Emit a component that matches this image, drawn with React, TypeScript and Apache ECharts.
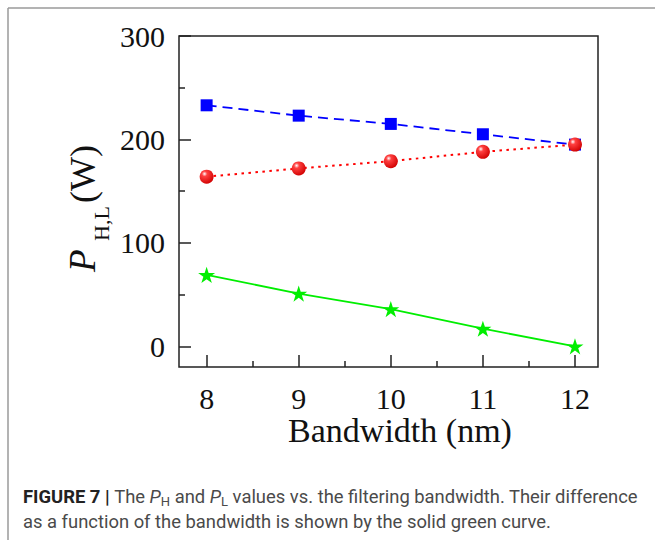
import React, { useEffect, useRef } from "react";
import * as echarts from "echarts";

const bandwidth = [8, 9, 10, 11, 12];
const pHigh = [233, 223, 215, 205, 195];
const pLow = [164, 172, 179, 188, 195];
const pDiff = [69, 51, 36, 17, 0];
const xMajorTicks = [8, 9, 10, 11, 12];
const xMinorTicks = [8.5, 9.5, 10.5, 11.5];
const yMajorTicks = [0, 100, 200, 300];
const yMinorTicks = [50, 150, 250];

const STAR =
  "path://M50 0 L61.23 34.55 L97.55 34.55 L68.16 55.9 L79.39 90.45 L50 69.1 L20.61 90.45 L31.84 55.9 L2.45 34.55 L38.77 34.55 Z";

const SERIF = "'Liberation Serif', 'Times New Roman', serif";

export default function App() {
  const ref = useRef<HTMLDivElement>(null);
  useEffect(() => {
    if (!ref.current) return;
    const chart = echarts.init(ref.current, null, { renderer: "svg" });
    const axisCommon = {
      type: "value" as const,
      axisLine: { show: false, onZero: false },
      splitLine: { show: false },
    };
    const tickStyle = { color: "#222", width: 1.5 };
    const pair = (ys: number[]) => bandwidth.map((x, i) => [x, ys[i]]);
    chart.setOption({
      animation: false,
      backgroundColor: "#fff",
      grid: {
        left: 179,
        top: 36,
        width: 419,
        height: 331,
        show: true,
        borderColor: "#222",
        borderWidth: 1.5,
        backgroundColor: "transparent",
      },
      xAxis: [
        {
          ...axisCommon,
          min: 7.7,
          max: 12.25,
          axisTick: { show: true, inside: true, length: 12, customValues: xMajorTicks, lineStyle: tickStyle },
          axisLabel: { customValues: xMajorTicks, margin: 18, lineHeight: 26, fontFamily: SERIF, fontSize: 30, color: "#111" },
        },
        {
          ...axisCommon,
          position: "bottom",
          min: 7.7,
          max: 12.25,
          axisTick: { show: true, inside: true, length: 6, customValues: xMinorTicks, lineStyle: tickStyle },
          axisLabel: { show: false },
        },
      ],
      yAxis: [
        {
          ...axisCommon,
          min: -20,
          max: 300,
          axisTick: { show: true, inside: true, length: 12, customValues: yMajorTicks, lineStyle: tickStyle },
          axisLabel: { customValues: yMajorTicks, margin: 14, fontFamily: SERIF, fontSize: 30, color: "#111" },
        },
        {
          ...axisCommon,
          position: "left",
          min: -20,
          max: 300,
          axisTick: { show: true, inside: true, length: 6, customValues: yMinorTicks, lineStyle: tickStyle },
          axisLabel: { show: false },
        },
      ],
      series: [
        {
          type: "line",
          data: pair(pHigh),
          symbol: "rect",
          symbolSize: 12,
          itemStyle: { color: "#0000ff" },
          lineStyle: { color: "#0000ff", width: 1.8, type: [10, 6] },
        },
        {
          type: "line",
          data: pair(pLow),
          symbol: "circle",
          symbolSize: 14,
          itemStyle: {
            color: new echarts.graphic.RadialGradient(0.35, 0.3, 0.75, [
              { offset: 0, color: "#ffffff" },
              { offset: 0.25, color: "#ff4040" },
              { offset: 1, color: "#d00000" },
            ]),
          },
          lineStyle: { color: "#ff0000", width: 2, type: [2.5, 4.5] },
        },
        {
          type: "line",
          data: pair(pDiff),
          symbol: STAR,
          symbolSize: 17,
          symbolKeepAspect: true,
          itemStyle: { color: "#00ee00" },
          lineStyle: { color: "#00ee00", width: 1.8 },
        },
      ],
      graphic: [
        { type: "line", shape: { x1: 8, y1: 8, x2: 655, y2: 8 }, style: { stroke: "#9a9a9a", lineWidth: 1.5 } },
        { type: "line", shape: { x1: 8, y1: 8, x2: 8, y2: 540 }, style: { stroke: "#9a9a9a", lineWidth: 1.5 } },
        {
          type: "text",
          x: 400,
          y: 413,
          style: { text: "Bandwidth (nm)", fontFamily: SERIF, fontSize: 34, fill: "#111", align: "center", verticalAlign: "top" },
        },
        {
          type: "group",
          x: 97,
          y: 272,
          rotation: Math.PI / 2,
          children: [
            { type: "text", x: 0, y: -33, style: { text: "P", fontFamily: SERIF, fontStyle: "italic", fontSize: 37, fill: "#111", verticalAlign: "top" } },
            { type: "text", x: 31, y: -6.5, style: { text: "H,L", fontFamily: SERIF, fontSize: 22, fill: "#111", verticalAlign: "top" } },
            { type: "text", x: 69, y: -32, style: { text: "(W)", fontFamily: SERIF, fontSize: 36, fill: "#111", verticalAlign: "top" } },
          ],
        },
      ],
    });
    return () => chart.dispose();
  }, []);

  const cap: React.CSSProperties = {
    position: "absolute",
    left: 23,
    fontFamily: "Roboto, 'Liberation Sans', sans-serif",
    fontSize: 18.4,
    color: "#4a4a4a",
    whiteSpace: "nowrap",
    lineHeight: "20px",
  };
  const sub: React.CSSProperties = { fontSize: 13, verticalAlign: "-3px" };
  return (
    <div style={{ position: "fixed", left: 0, top: 0, width: 655, height: 540, background: "#fff" }}>
      <div ref={ref} style={{ position: "absolute", left: 0, top: 0, width: 655, height: 540 }} />
      <div style={{ ...cap, top: 486.5 }}>
        <b style={{ color: "#222" }}>FIGURE 7 | </b>The <i>P</i>
        <span style={sub}>H</span> and <i>P</i>
        <span style={sub}>L</span> values vs. the filtering bandwidth. Their difference
      </div>
      <div style={{ ...cap, top: 511.5 }}>as a function of the bandwidth is shown by the solid green curve.</div>
    </div>
  );
}
